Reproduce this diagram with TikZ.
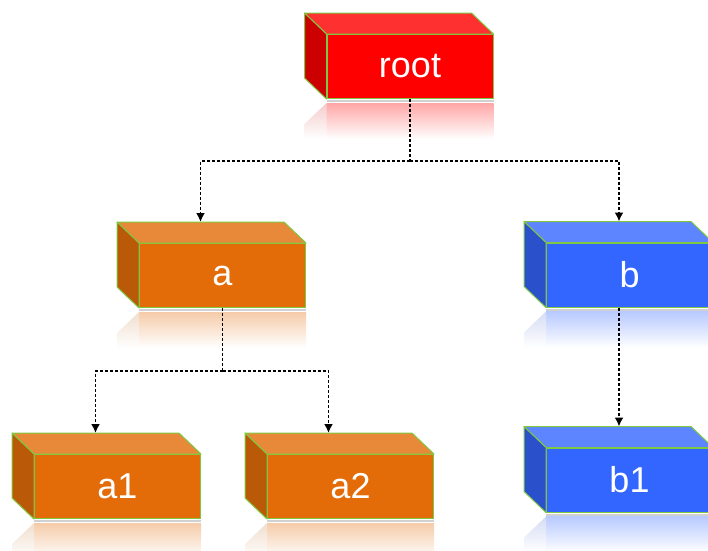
\documentclass[tikz,border=0pt]{standalone}
\usepackage{fontspec}
\setsansfont{Liberation Sans}
\usetikzlibrary{arrows.meta,backgrounds}

\definecolor{boxline}{RGB}{128,200,66}
\definecolor{redfront}{RGB}{255,0,0}
\definecolor{redtop}{RGB}{255,48,48}
\definecolor{redside}{RGB}{204,0,0}
\definecolor{orangefront}{RGB}{227,108,9}
\definecolor{orangetop}{RGB}{232,137,58}
\definecolor{orangeside}{RGB}{186,90,8}
\definecolor{bluefront}{RGB}{51,102,255}
\definecolor{bluetop}{RGB}{92,133,255}
\definecolor{blueside}{RGB}{43,80,204}

\tikzset{
  block/.style={draw=boxline, line width=1pt, fill=#1front, minimum width=166pt,
    minimum height=64pt, inner sep=0pt, text=white,
    font=\sffamily\fontsize{36}{36}\selectfont},
  face/.style={draw=boxline, line width=1pt, line join=round},
  link/.style={densely dashed, line width=1.8pt},
  linkarrow/.style={link, -{Latex[length=9pt,width=9pt]}}
}

\begin{document}
\begin{tikzpicture}[x=1pt, y=-1pt]

    \clip (0,0) rectangle (708,550);

    % Boxes (front faces)
    \node[block=red]    (root) at (410,66.5)    {root};
    \node[block=orange] (a)    at (222.5,275.5) {a};
    \node[block=orange] (a1)   at (117.5,486.5) {a1};
    \node[block=orange] (a2)   at (350.5,486.5) {a2};
    \node[block=blue]   (b)    at (629.5,275)   {b};
    \node[block=blue]   (b1)   at (629.5,480)   {b1};

    % Top and side faces
    \foreach \n/\c in {root/red, a/orange, a1/orange, a2/orange, b/blue, b1/blue} {
        \filldraw[face, fill=\c top] (\n.north west) -- ++(-22,-21)
            -- ([shift={(-22,-21)}]\n.north east) -- (\n.north east) -- cycle;
        \filldraw[face, fill=\c side] (\n.north west) -- ++(-22,-21)
            -- ([shift={(-22,-21)}]\n.south west) -- (\n.south west) -- cycle;
    }

    % Reflections
    \begin{scope}[on background layer]
        \foreach \n/\c in {root/red, a/orange, a1/orange, a2/orange, b/blue, b1/blue} {
            \shade[top color=\c front!35, bottom color=white]
                ([shift={(0,4)}]\n.south west) rectangle ([shift={(0,40)}]\n.south east);
            \shade[top color=\c side!20, bottom color=white]
                ([shift={(0,4)}]\n.south west) -- ([shift={(-22,25)}]\n.south west)
                -- ([shift={(-22,40)}]\n.south west) -- ([shift={(0,40)}]\n.south west) -- cycle;
            \draw[black!18, line width=2pt]
                ([shift={(0,2)}]\n.south west) -- ([shift={(0,2)}]\n.south east);
        }
    \end{scope}

    % Entry points on the top faces
    \coordinate (a in)  at ([shift={(-22,-21)}]a.north);
    \coordinate (a1 in) at ([shift={(-22,-21)}]a1.north);
    \coordinate (a2 in) at ([shift={(-22,-21)}]a2.north);
    \coordinate (b in)  at ([shift={(73,-21)}]b.north west);
    \coordinate (b1 in) at ([shift={(73,-21)}]b1.north west);

    % Connectors
    \draw[link] (root.south) -- ++(0,62) coordinate (root fork);
    \draw[linkarrow] (root fork) -| (a in);
    \draw[linkarrow] (root fork) -| (b in);

    \draw[link] (a.south) -- ++(0,63) coordinate (a fork);
    \draw[linkarrow] (a fork) -| (a1 in);
    \draw[linkarrow] (a fork) -| (a2 in);

    \draw[linkarrow] (b.south -| b in) -- (b1 in);

\end{tikzpicture}
\end{document}
